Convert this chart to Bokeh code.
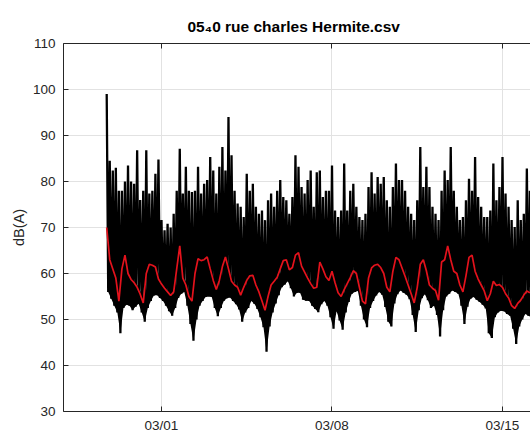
import numpy as np
import pandas as pd
from bokeh.plotting import figure
from bokeh.models import (DatetimeAxis, FixedTicker, DatetimeTickFormatter, Range1d,
                          ColumnDataSource, CustomJSTickFormatter)
from bokeh.embed import file_html
from bokeh.resources import INLINE

# ---- data ----
series_start = "2019-02-26 18:00"
step_hours = 3

# upper envelope of the raw signal, dB(A), one value every 3 h
hi = [
    99, 84.5, 82.4, 83, 78, 78, 80, 83.5, 80, 79.5,
    86.8, 76, 78, 86.8, 77.4, 78, 81.7, 84.8, 71.6, 69.4,
    70.8, 70, 73, 78, 87.1, 77.4, 83.2, 78, 77.7, 78,
    83.2, 77.4, 79.5, 80.3, 85.3, 82.4, 77.4, 83.2, 87.5, 82.4,
    94, 85.7, 78, 75.2, 74.5, 72.3, 81.7, 78, 79.5, 74.5,
    73, 73.7, 71.6, 75.9, 77.4, 74.5, 78, 80.3, 76.6, 75.9,
    73, 76.6, 85.7, 83.2, 78.8, 77.4, 80.3, 82.4, 74.5, 82,
    82.4, 76.6, 78, 78, 83.5, 73.7, 72.3, 73.7, 83.9, 73.7,
    78, 79.5, 74.5, 72.3, 71.6, 73, 78.8, 82, 77.4, 81,
    79.5, 81, 75.9, 74.5, 78.8, 83.9, 80.3, 80.3, 78, 74.5,
    73, 71.6, 75.9, 87.5, 78.8, 83.2, 78.8, 74.5, 73, 71.6,
    78, 82.4, 80.3, 87.5, 78, 74.5, 71.6, 72.3, 75.9, 80.6,
    78, 85.3, 76.6, 74.5, 72.3, 72.3, 73.7, 83.9, 75.9, 78.8,
    85.3, 77.4, 74.5, 71.6, 70.1, 75.9, 71.6, 73, 82.8, 78,
]

# lower envelope of the raw signal, dB(A)
lo = [
    56, 54.5, 53, 51.5, 47, 52.5, 53.2, 53, 52, 52.8,
    53.4, 51.5, 49.5, 52.5, 54, 55.2, 55.3, 54.7, 54, 53,
    51.8, 50.8, 52.5, 54.7, 55.6, 56, 53, 49, 45.4, 50,
    53, 54, 54.9, 55, 54.9, 52.5, 50.7, 52.5, 54.1, 54.6,
    54.8, 54, 53.3, 52.2, 49.5, 51.5, 52.5, 54, 53.4, 52.3,
    50.5, 48.3, 43, 48.5, 51.5, 53.5, 55.3, 57, 57.6, 58.3,
    56.8, 55, 55.8, 55.8, 54.3, 54.1, 54, 53, 52.3, 51.6,
    53.3, 54, 53, 50.5, 48, 51.8, 49.8, 47.8, 51.5, 53.8,
    55.6, 56, 56.2, 53, 50, 48.3, 52.5, 54, 55.2, 56,
    55.4, 52.7, 49.5, 48.5, 53.5, 55.5, 56.3, 55.8, 55.4, 54.4,
    51, 47.3, 52, 54.6, 55.5, 54.2, 52.5, 53, 51, 46.3,
    52, 55, 55.6, 56.3, 56, 55.6, 53, 49, 52.8, 54.5,
    54.9, 54.3, 53.8, 53.2, 52.4, 47, 46, 50.5, 51.5, 51.9,
    51.8, 51.2, 50.8, 48, 44.7, 48.5, 50, 51.2, 50.8, 50.5,
]

# smoothed level (red curve), dB(A)
leq = [
    70, 63, 61, 59, 54, 61, 64, 60, 58.7, 58,
    57, 55.5, 53.6, 60, 62, 61.8, 61.4, 58.8, 57.7, 56.8,
    56, 55.2, 56, 61, 66, 59, 57.5, 55, 54, 60,
    63.2, 62.8, 63, 63.6, 61, 58.5, 56.5, 58.5, 61.5, 63.6,
    61, 58.3, 57.5, 57, 55.3, 57, 58.5, 59.5, 59.6, 57.5,
    56, 54, 52, 55, 57.5, 58.3, 59.2, 61, 62.8, 63,
    60.8, 61.3, 64, 64.5, 61.6, 60.3, 59, 57.8, 56.8, 57,
    62.5, 61, 59.3, 58.5, 60.5, 58, 55.8, 55, 56.5, 57.8,
    59.1, 60.6, 60, 57, 54, 53.4, 59, 61.2, 61.8, 62,
    61.3, 60, 57, 56, 60.5, 63.5, 63, 61.2, 59.4, 57.5,
    55.6, 53.6, 57, 62, 63, 60.6, 57.5, 56.8, 56.3, 54.2,
    62.5, 63, 66, 63, 60.5, 60, 57.5, 56, 59.5, 63.5,
    64, 60.5, 58.8, 57.5, 56.2, 54.1, 55.6, 58.3, 57.4, 57.6,
    57, 55.6, 54.7, 53, 52.4, 53.5, 54.2, 55.3, 56.2, 55.8,
]

tick_dates = ["2019-03-01", "2019-03-08", "2019-03-15"]
y_ticks = [30, 40, 50, 60, 70, 80, 90, 100, 110]
title_text = "05\u20840 rue charles Hermite.csv"
y_label = "dB(A)"

# ---- build sources ----
n = len(hi)
t = pd.Timestamp(series_start) + pd.to_timedelta(np.arange(n) * step_hours, unit="h")
t_lo = t + pd.Timedelta(hours=step_hours / 2)
raw_t, raw_v = [], []
for a, b, h, l in zip(t, t_lo, hi, lo):
    raw_t += [a, b]
    raw_v += [h, l]
raw = ColumnDataSource(dict(t=raw_t, v=raw_v))
band = ColumnDataSource(dict(t=list(t_lo), lo=lo, mid=leq))
smooth = ColumnDataSource(dict(t=list(t), v=leq))

x0 = pd.Timestamp("2019-02-24 23:26")
x1 = pd.Timestamp("2019-03-16 03:36")

FONT = "Liberation Sans"
AX = "#262626"

p = figure(width=530, height=435, x_axis_type="datetime", output_backend="svg",
           toolbar_location=None, x_range=Range1d(x0, x1), y_range=Range1d(30, 110),
           min_border_left=63, min_border_right=0, min_border_top=43, min_border_bottom=24,
           background_fill_color="white", border_fill_color="white")
p.outline_line_color = None

# dense raw signal: solid from the lower envelope up to the level curve, then the spikes
p.varea(x="t", y1="lo", y2="mid", source=band, fill_color="black")
p.line("t", "v", source=raw, line_color="black", line_width=2.3)
p.line("t", "v", source=smooth, line_color="#e3121c", line_width=1.7)

tick_ms = [pd.Timestamp(d).value / 1e6 for d in tick_dates]
xt = FixedTicker(ticks=tick_ms)
fmt = DatetimeTickFormatter(days="%m/%d", months="%m/%d", years="%m/%d", hours="%m/%d")

xa = p.xaxis[0]
xa.ticker = xt
xa.formatter = fmt
ya = p.yaxis[0]
ya.ticker = FixedTicker(ticks=y_ticks)
ya.axis_label = y_label
for ax in (xa, ya):
    ax.axis_line_color = AX
    ax.major_tick_line_color = AX
    ax.major_tick_in = 5
    ax.major_tick_out = 0
    ax.minor_tick_line_color = None
    ax.major_label_text_font = FONT
    ax.major_label_text_font_size = "13.5px"
    ax.major_label_text_color = AX
xa.major_label_standoff = 6
ya.major_label_standoff = 8
ya.axis_label_text_font = FONT
ya.axis_label_text_font_size = "14.5px"
ya.axis_label_text_font_style = "normal"
ya.axis_label_text_color = AX
ya.axis_label_standoff = 3

top = DatetimeAxis(ticker=xt, formatter=CustomJSTickFormatter(code="return ''"))
top.axis_line_color = AX
top.major_tick_line_color = AX
top.major_tick_in = 5
top.major_tick_out = 0
top.minor_tick_line_color = None
top.major_label_standoff = 0
top.major_label_text_font_size = "0px"
p.add_layout(top, "above")

p.xgrid.ticker = xt
p.ygrid.ticker = FixedTicker(ticks=y_ticks)
p.grid.grid_line_color = "#e2e2e2"
p.grid.grid_line_width = 1

p.title.text = title_text
p.title.align = "left"
p.title.offset = 124
p.title.standoff = 17
p.title.text_font = FONT
p.title.text_font_size = "15.5px"
p.title.text_font_style = "bold"
p.title.text_color = "black"

open("out.html", "w").write(file_html(p, INLINE))
